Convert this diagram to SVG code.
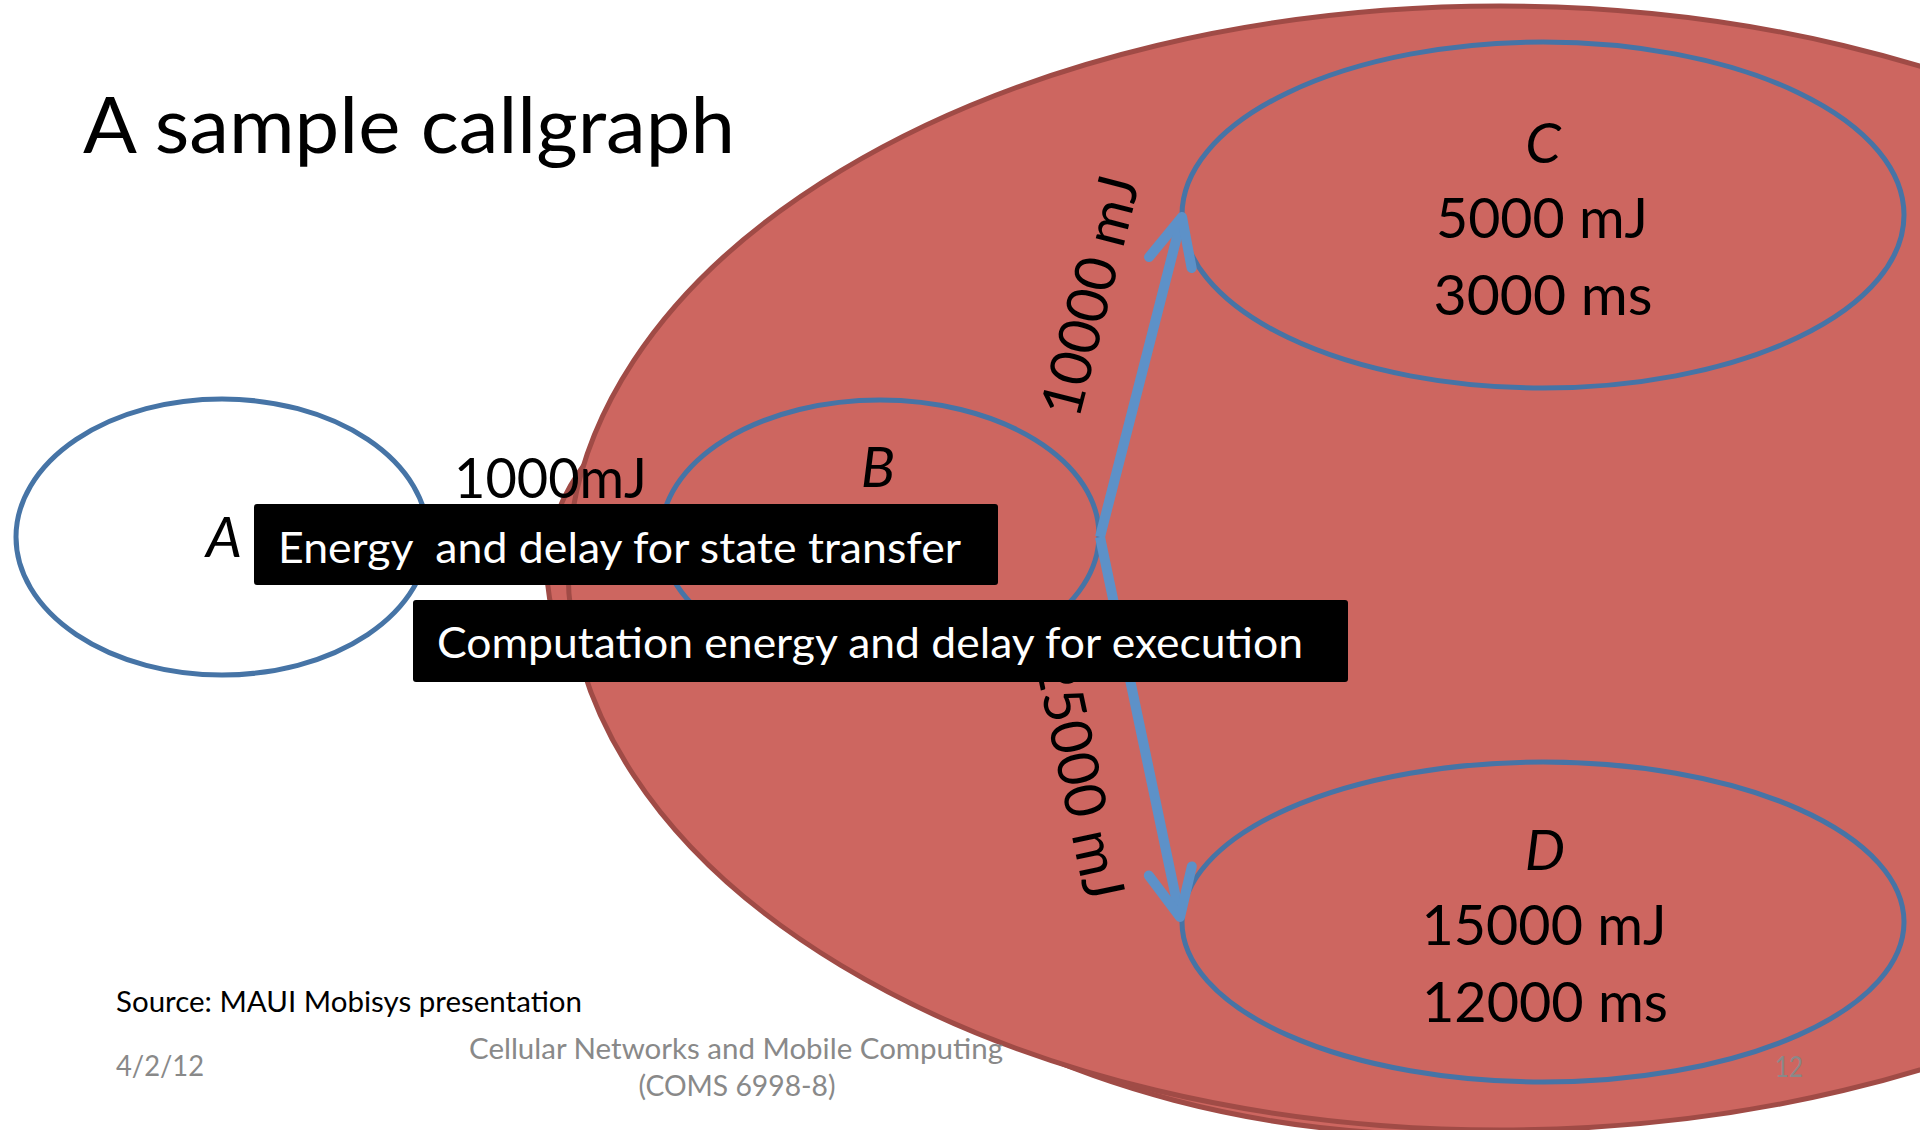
<svg xmlns="http://www.w3.org/2000/svg" width="1920" height="1130" viewBox="0 0 1920 1130">
  <defs>
    <style>
      text { font-family: Lato, "Liberation Sans", "DejaVu Sans", sans-serif; fill: #000; }
      .region { fill: #CD6660; stroke: #A04B46; stroke-width: 5; }
      .node { fill: none; stroke: #4674A6; stroke-width: 5; }
      .name { font-style: italic; font-size: 57px; text-anchor: middle; }
      .val { font-size: 57px; text-anchor: middle; }
      .edge { fill: none; stroke: #5D91C8; stroke-width: 10; marker-end: url(#arrow); }
      .elabel { font-size: 57px; text-anchor: middle; }
      .note rect { fill: #000; }
      .note text { fill: #fff; font-size: 43px; }
      .foot { fill: #898989; font-size: 29px; }
    </style>
    <marker id="arrow" markerUnits="userSpaceOnUse" viewBox="-60 -30 70 60" markerWidth="70" markerHeight="60" refX="0" refY="0" orient="auto" overflow="visible">
      <path d="M-47,-22 L0,0 L-47,22" fill="none" stroke="#5D91C8" stroke-width="10" stroke-linecap="round" stroke-linejoin="round"/>
    </marker>
  </defs>

  <rect width="1920" height="1130" fill="#fff"/>

  <g id="title">
    <text x="83" y="153" font-size="77" textLength="652" lengthAdjust="spacingAndGlyphs">A sample callgraph</text>
  </g>

  <!-- offloaded (remote) region -->
  <g id="remote-region">
    <ellipse class="region" cx="1131" cy="570" rx="584" ry="300"/>
    <ellipse class="region" cx="1450" cy="640" rx="750" ry="495"/>
    <ellipse class="region" cx="1500" cy="568" rx="932" ry="562"/>
  </g>

  <g id="node-a">
    <ellipse class="node" cx="222" cy="537" rx="206" ry="138"/>
    <text class="name" x="224" y="557" font-size="46">A</text>
  </g>

  <g id="node-b">
    <ellipse class="node" cx="880" cy="535" rx="219" ry="135"/>
    <text class="name" x="878" y="487">B</text>
  </g>

  <g id="node-c">
    <ellipse class="node" cx="1543" cy="215" rx="361" ry="173"/>
    <text class="name" x="1543" y="163">C</text>
    <text class="val" x="1542" y="238" textLength="212" lengthAdjust="spacingAndGlyphs">5000 mJ</text>
    <text class="val" x="1543" y="315" textLength="219" lengthAdjust="spacingAndGlyphs">3000 ms</text>
  </g>

  <g id="node-d">
    <ellipse class="node" cx="1543" cy="922" rx="361" ry="160"/>
    <text class="name" x="1545" y="870">D</text>
    <text class="val" x="1544" y="945" textLength="245" lengthAdjust="spacingAndGlyphs">15000 mJ</text>
    <text class="val" x="1545" y="1022" textLength="246" lengthAdjust="spacingAndGlyphs">12000 ms</text>
  </g>

  <g id="connectors">
    <line class="edge" x1="1100" y1="537" x2="1182" y2="217"/>
    <line class="edge" x1="1100" y1="537" x2="1180" y2="917"/>
    <text x="454" y="498" font-size="57" textLength="193" lengthAdjust="spacingAndGlyphs">1000mJ</text>
    <text class="elabel" transform="translate(1090,296) rotate(-75.6)" y="20" textLength="246" lengthAdjust="spacingAndGlyphs">10000 mJ</text>
    <text class="elabel" transform="translate(1080,778) rotate(78)" y="20" textLength="246" lengthAdjust="spacingAndGlyphs">25000 mJ</text>
  </g>

  <g id="note-transfer" class="note">
    <rect x="254" y="504" width="744" height="81" rx="3"/>
    <text x="278" y="563" xml:space="preserve" textLength="683" lengthAdjust="spacingAndGlyphs">Energy  and delay for state transfer</text>
  </g>

  <g id="note-execution" class="note">
    <rect x="413" y="600" width="935" height="82" rx="3"/>
    <text x="437" y="658" textLength="866" lengthAdjust="spacingAndGlyphs">Computation energy and delay for execution</text>
  </g>

  <g id="footer">
    <text x="116" y="1012" font-size="29" textLength="466" lengthAdjust="spacingAndGlyphs">Source: MAUI Mobisys presentation</text>
    <text class="foot" x="116" y="1076" textLength="88" lengthAdjust="spacingAndGlyphs">4/2/12</text>
    <text class="foot" x="736" y="1059" text-anchor="middle" textLength="534" lengthAdjust="spacingAndGlyphs">Cellular Networks and Mobile Computing</text>
    <text class="foot" x="737" y="1096" text-anchor="middle" textLength="197" lengthAdjust="spacingAndGlyphs">(COMS 6998-8)</text>
    <text class="foot" x="1775" y="1077" textLength="28" lengthAdjust="spacingAndGlyphs">12</text>
  </g>
</svg>
